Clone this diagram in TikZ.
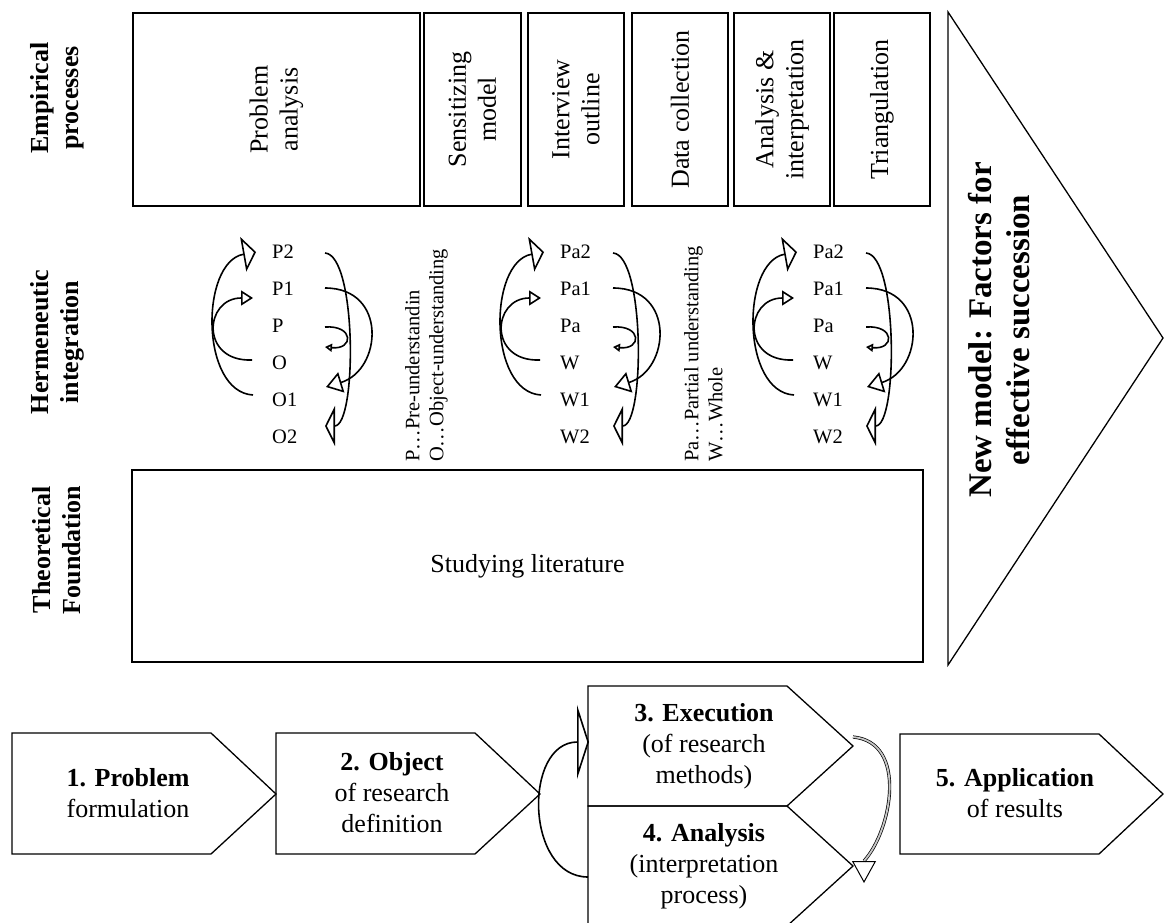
\documentclass[tikz,border=0pt]{standalone}
\usepackage{fontspec}
\setmainfont{Liberation Serif}
\usetikzlibrary{arrows.meta,calc}

% one hermeneutic spiral: #1 name prefix, #2 x of the label column, #3..#8 labels
\newcommand{\hspiral}[8]{%
  \node[lab] (#1a) at (#2,252) {#3};
  \node[lab] (#1b) at (#2,289) {#4};
  \node[lab] (#1c) at (#2,326) {#5};
  \node[lab] (#1d) at (#2,363) {#6};
  \node[lab] (#1e) at (#2,400) {#7};
  \node[lab] (#1f) at (#2,437) {#8};
  % left side: back up to the upper labels
  \draw[harc,-{Triangle[open,length=13pt,width=35pt]}]
    ([xshift=-19pt,yshift=5pt]#1e.west) .. controls +(-53,-3) and +(-56,10) .. ([xshift=-16pt]#1a.west);
  \draw[harc,-{Triangle[open,length=12pt,width=15pt]}]
    ([xshift=-20pt,yshift=3pt]#1d.west) .. controls +(-52,2) and +(-49,0) .. ([xshift=-19pt,yshift=-9pt]#1b.west);
  % right side: down to the lower labels
  \draw[harc,-{Triangle[open,length=10pt,width=40pt]}]
    ([xshift=53pt,yshift=-1pt]#1a.west) .. controls +(32,2) and +(32,0) .. ([xshift=53pt,yshift=11pt]#1f.west);
  \draw[harc,-{Triangle[open,length=16pt,width=21pt]}]
    ([xshift=53pt,yshift=1pt]#1b.west) .. controls +(63,0) and +(56,-17) .. ([xshift=54pt,yshift=13pt]#1e.west);
  \draw[harc,-{Triangle[open,length=7pt,width=8pt]}]
    ([xshift=53pt,yshift=-1pt]#1c.west) .. controls +(29,-2) and +(29,3) .. ([xshift=53pt,yshift=-21pt]#1c.west);
}

\begin{document}
\begin{tikzpicture}[x=1pt,y=-1pt,
  ebox/.style={draw,line width=1.8pt,rotate=90,align=center,inner sep=0pt,
    minimum width=193,font=\fontsize{26}{30}\selectfont},
  rowlab/.style={rotate=90,align=center,font=\bfseries\fontsize{26}{30}\selectfont},
  lab/.style={anchor=west,inner sep=0pt,font=\fontsize{20.5}{24}\selectfont},
  legend/.style={rotate=90,anchor=north west,align=left,inner sep=0pt,
    font=\fontsize{20.5}{24}\selectfont},
  harc/.style={line width=1.6pt},
  flowbox/.style={draw,line width=1.3pt,line join=miter},
  ftext/.style={align=center,font=\fontsize{26}{31}\selectfont}]

\useasboundingbox (0,0) rectangle (1164,923);

% row titles
\node[rowlab] (emp) at (57,98) {Empirical\\processes};
\node[rowlab] (her) at (57,342) {Hermeneutic\\integration};
\node[rowlab] (the) at (57,550) {Theoretical\\Foundation};

% empirical processes
\node[ebox,minimum height=287] (pa) at (276.5,109.5) {Problem\\analysis};
\node[ebox,minimum height=97] (sm) at (472.5,109.5) {Sensitizing\\model};
\node[ebox,minimum height=96] (io) at (576,109.5) {Interview\\outline};
\node[ebox,minimum height=96] (dc) at (680,109.5) {Data collection};
\node[ebox,minimum height=96] (ai) at (782,109.5) {Analysis \&\\interpretation};
\node[ebox,minimum height=96] (tr) at (882,109.5) {Triangulation};

% hermeneutic integration
\hspiral{p}{272}{P2}{P1}{P}{O}{O1}{O2}
\hspiral{q}{560}{Pa2}{Pa1}{Pa}{W}{W1}{W2}
\hspiral{r}{813}{Pa2}{Pa1}{Pa}{W}{W1}{W2}
\node[legend] (leg1) at (405,462) {P…Pre-understandin\\O…Object-understanding};
\node[legend] (leg2) at (684,462) {Pa…Partial understanding\\W…Whole};

% theoretical foundation
\node[draw,line width=1.8pt,minimum width=791,minimum height=192,
  font=\fontsize{26}{30}\selectfont] (tf) at (527.5,566) {Studying literature};

% result arrow
\draw[line width=1.3pt,line join=miter] (948,12) -- (1163,338) -- (948,665) -- cycle;
\node[rotate=90,align=center,font=\bfseries\fontsize{33}{38}\selectfont] (nm) at (999,330)
  {New model: Factors for\\effective succession};

% research process
\draw[flowbox] (12,733) -- (211,733) -- (276,794) -- (211,854) -- (12,854) -- cycle;
\draw[flowbox] (276,733) -- (475,733) -- (540,794) -- (475,854) -- (276,854) -- cycle;
\draw[flowbox] (588,686) -- (787,686) -- (853,746) -- (787,806) -- (588,806) -- cycle;
\draw[flowbox] (588,806) -- (787,806) -- (853,866) -- (787,926) -- (588,926) -- cycle;
\draw[flowbox] (900,734) -- (1099,734) -- (1163,794) -- (1099,854) -- (900,854) -- cycle;

\node[ftext] (s1) at (128,793) {\textbf{1. Problem}\\formulation};
\node[ftext] (s2) at (392,793) {\textbf{2. Object}\\of research\\definition};
\node[ftext] (s3) at (704,746) {\textbf{3. Execution}\\(of research\\methods)};
\node[ftext] (s4) at (704,866) {\textbf{4. Analysis}\\(interpretation\\process)};
\node[ftext] (s5) at (1015,793) {\textbf{5. Application}\\of results};

\coordinate (in3) at (589,742);
\coordinate (out4) at (588,877);
\coordinate (tip3) at (853,737);
\coordinate (base4) at (864,861);
\coordinate (tip4) at (864,883);

% loop from analysis back to execution
\draw[harc,-{Triangle[open,length=12pt,width=74pt]}]
  (out4) .. controls (525,877) and (523,742) .. (in3);
% loop from execution on to analysis
\draw[line width=0.7pt,double=gray!45,double distance=1.8pt]
  (tip3) .. controls (908,742) and (892,830) .. (base4);
\draw[line width=1pt,-{Triangle[open,length=22pt,width=24pt]}] (base4) -- (tip4);
\end{tikzpicture}
\end{document}
